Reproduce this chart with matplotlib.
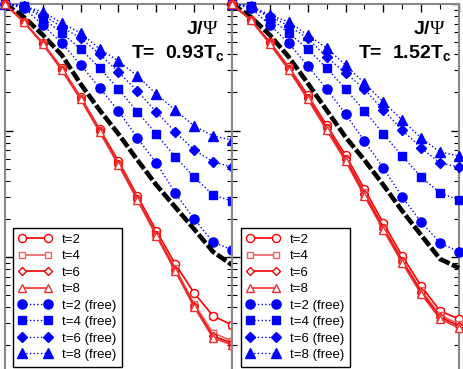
import numpy as np
import matplotlib.pyplot as plt

plt.rcParams['font.family'] = 'Liberation Sans'
plt.rcParams['mathtext.fontset'] = 'custom'
plt.rcParams['mathtext.rm'] = 'Liberation Serif'
plt.rcParams['mathtext.bf'] = 'Liberation Sans:bold'

tau = np.arange(13)

# T = 0.93 Tc (left panel)
red_t2_L = [1.0, 0.721, 0.491, 0.312, 0.184, 0.103, 0.0574, 0.0304, 0.0161, 0.0088, 0.00519, 0.00342, 0.0029]
red_t4_L = [1.0, 0.721, 0.491, 0.306, 0.181, 0.101, 0.0553, 0.0293, 0.0152, 0.00819, 0.00426, 0.00251, 0.00217]
red_t6_L = [1.0, 0.721, 0.483, 0.301, 0.177, 0.0991, 0.0543, 0.0287, 0.0149, 0.00789, 0.0041, 0.00237, 0.00209]
red_t8_L = [1.0, 0.721, 0.483, 0.301, 0.177, 0.0973, 0.0534, 0.0282, 0.0147, 0.00775, 0.00402, 0.00229, 0.00202]
free_t2_L = [1.0, 0.930, 0.682, 0.491, 0.330, 0.217, 0.143, 0.0872, 0.0553, 0.0321, 0.0200, 0.0131, 0.0114]
free_t4_L = [1.0, 0.964, 0.775, 0.590, 0.441, 0.312, 0.213, 0.140, 0.0938, 0.0617, 0.0429, 0.0309, 0.0277]
free_t6_L = [1.0, 0.964, 0.819, 0.658, 0.538, 0.402, 0.290, 0.205, 0.140, 0.0973, 0.0701, 0.0564, 0.0515]
free_t8_L = [1.0, 0.964, 0.865, 0.708, 0.590, 0.441, 0.354, 0.270, 0.194, 0.145, 0.1086, 0.0905, 0.0841]
model_L = [1.0, 0.789, 0.569, 0.395, 0.233, 0.145, 0.0938, 0.0584, 0.0371, 0.0248, 0.0166, 0.0110, 0.00865]

# T = 1.52 Tc (right panel)
red_t2_R = [1.0, 0.747, 0.501, 0.318, 0.191, 0.1105, 0.0640, 0.0345, 0.01857, 0.01018, 0.0059, 0.00374, 0.00324]
red_t4_R = [1.0, 0.747, 0.491, 0.312, 0.184, 0.1066, 0.0606, 0.0326, 0.0173, 0.00947, 0.00548, 0.00348, 0.00295]
red_t6_R = [1.0, 0.747, 0.491, 0.306, 0.181, 0.1047, 0.0595, 0.0315, 0.01696, 0.0093, 0.00529, 0.00336, 0.00285]
red_t8_R = [1.0, 0.747, 0.483, 0.301, 0.177, 0.1009, 0.0574, 0.0304, 0.01634, 0.00897, 0.0051, 0.00324, 0.00275]
free_t2_R = [1.0, 0.930, 0.682, 0.491, 0.324, 0.213, 0.135, 0.0826, 0.0505, 0.0298, 0.0189, 0.0129, 0.0110]
free_t4_R = [1.0, 0.964, 0.775, 0.590, 0.441, 0.312, 0.213, 0.143, 0.0938, 0.0629, 0.0429, 0.0321, 0.0282]
free_t6_R = [1.0, 0.947, 0.804, 0.670, 0.538, 0.381, 0.285, 0.213, 0.145, 0.1009, 0.0727, 0.0553, 0.0515]
free_t8_R = [1.0, 0.964, 0.819, 0.721, 0.569, 0.449, 0.330, 0.237, 0.168, 0.121, 0.0872, 0.0676, 0.0629]
model_R = [1.0, 0.789, 0.569, 0.381, 0.237, 0.145, 0.0888, 0.0584, 0.0371, 0.0231, 0.0149, 0.00964, 0.00819]

# relative errors on the full correlators
rel_err = [0, 0, 0, 0, 0.01, 0.015, 0.02, 0.025, 0.03, 0.035, 0.04, 0.05, 0.06]

labels = ['t=2', 't=4', 't=6', 't=8']
red_markers = ['o', 's', 'D', '^']
red_sizes = [5.8, 5.0, 4.2, 6.0]
red_colors = ['#ff0000', '#f06060', '#ee0000', '#f03030']
blue_markers = ['o', 's', 'D', '^']
blue_sizes = [6.6, 5.4, 4.8, 6.8]

fig = plt.figure(figsize=(4.63, 3.69), dpi=100)
W, H = 463.0, 369.0
axL = fig.add_axes([5 / W, (H - 383.5) / H, 227 / W, 379.5 / H])
axR = fig.add_axes([232 / W, (H - 383.5) / H, 227 / W, 379.5 / H])


def draw_panel(ax, reds, frees, model, temp, leg_x):
    handles = []
    for vals, m, ms, lab in zip(frees, blue_markers, blue_sizes, labels):
        h, = ax.plot(tau, vals, color='#0000ff', ls=':', lw=1.0, marker=m, ms=ms,
                     mfc='#0000ff', mec='#0000ff', clip_on=False, zorder=3,
                     label=lab + ' (free)')
        handles.append(h)
    ax.plot(tau, model, color='black', lw=3.3, ls=(0, (2.4, 0.6)), zorder=4, clip_on=False)
    red_handles = []
    for vals, m, ms, c, lab in zip(reds, red_markers, red_sizes, red_colors, labels):
        vals = np.array(vals)
        ax.errorbar(tau, vals, yerr=vals * np.array(rel_err), fmt='none', ecolor=c,
                    elinewidth=1.0, capsize=3, zorder=5, clip_on=False)
        h, = ax.plot(tau, vals, color=c, ls='-', lw=1.2, marker=m, ms=ms,
                     mfc='white', mec=c, mew=1.0, clip_on=False, zorder=6, label=lab)
        red_handles.append(h)
    ax.set_yscale('log')
    ax.set_ylim(1e-3, 1.0)
    ax.set_xlim(0, 12)
    ax.set_xticks(np.arange(0, 13, 2))
    ax.set_xticks(np.arange(0, 13, 1), minor=True)
    ax.tick_params(which='both', direction='in', top=True, right=True,
                   labelleft=False, labelbottom=False, color='black')
    ax.tick_params(which='major', length=6, width=1.0)
    ax.tick_params(which='minor', length=3.5, width=0.8)
    for sp in ax.spines.values():
        sp.set_color('#888888')
        sp.set_linewidth(1.5)
    ax.text(0.94, 0.955, r'J/$\Psi$', transform=ax.transAxes, ha='right', va='top',
            fontsize=14, fontweight='bold')
    ax.text(0.965, 0.895, r'T=  ' + temp + r'T$_\mathbf{c}$', transform=ax.transAxes,
            ha='right', va='top', fontsize=14, fontweight='bold')
    leg = ax.legend(red_handles + handles, [h.get_label() for h in red_handles + handles],
                    loc='upper left', bbox_to_anchor=(leg_x, 1 - 228 / H),
                    bbox_transform=fig.transFigure, borderaxespad=0, numpoints=2,
                    fontsize=9.5, handlelength=2.5, handletextpad=0.8, labelspacing=0.32,
                    borderpad=0.42, fancybox=False, framealpha=1, edgecolor='black')
    leg.get_frame().set_linewidth(1.0)
    leg.set_zorder(10)


draw_panel(axL, [red_t2_L, red_t4_L, red_t6_L, red_t8_L],
           [free_t2_L, free_t4_L, free_t6_L, free_t8_L], model_L, '0.93', 13 / W)
draw_panel(axR, [red_t2_R, red_t4_R, red_t6_R, red_t8_R],
           [free_t2_R, free_t4_R, free_t6_R, free_t8_R], model_R, '1.52', 241 / W)

fig.savefig('out.png', dpi=100)
